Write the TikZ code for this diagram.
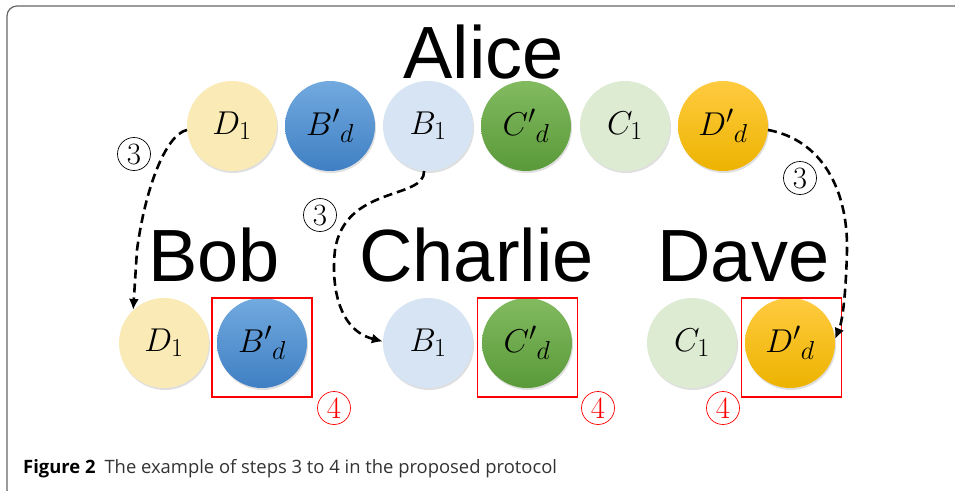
\documentclass[tikz,border=0pt]{standalone}
\usepackage{fix-cm}
\usepackage{fontspec}
\DeclareMathSizes{33}{33}{26}{20}
\newfontfamily\labelfont{Liberation Sans}
\newfontfamily\capfont{Open Sans}
\usetikzlibrary{arrows.meta,shadows}
\definecolor{pyellow}{HTML}{F9EAB6}
\definecolor{pblue}{HTML}{D6E4F3}
\definecolor{pgreen}{HTML}{DDEBD3}
\definecolor{blueT}{HTML}{72AADF}
\definecolor{blueB}{HTML}{3F7FC3}
\definecolor{greenT}{HTML}{82BA60}
\definecolor{greenB}{HTML}{5A9A3A}
\definecolor{orT}{HTML}{FFCB40}
\definecolor{orB}{HTML}{EDB300}
\definecolor{capgray}{HTML}{333333}
\tikzset{
  qubit/.style={circle, minimum size=90pt, inner sep=0pt,
    drop shadow={shadow xshift=1pt, shadow yshift=-2pt, opacity=0.25},
    font=\fontsize{33}{33}\selectfont},
  yel/.style={qubit, fill=pyellow},
  pbl/.style={qubit, fill=pblue},
  pgr/.style={qubit, fill=pgreen},
  blu/.style={qubit, top color=blueT, bottom color=blueB},
  grn/.style={qubit, top color=greenT, bottom color=greenB},
  org/.style={qubit, top color=orT, bottom color=orB},
  party/.style={font=\labelfont\fontsize{74}{74}\selectfont, inner sep=0pt, anchor=base},
  redbox/.style={draw=red, line width=1.8pt, minimum width=100pt, minimum height=99pt, inner sep=0pt},
  stepnum/.style={circle, draw, line width=0.7pt, minimum size=33pt, inner sep=0pt,
    font=\fontsize{31}{31}\selectfont},
  rednum/.style={stepnum, draw=red, text=red},
  sendarrow/.style={line width=2.6pt, dash pattern=on 9pt off 5pt,
    -{Latex[length=11pt,width=10pt]}},
}
\begin{document}
\begin{tikzpicture}[x=1pt,y=-1pt]
\useasboundingbox (0,0) rectangle (955,490);
\begin{scope}
\clip (0,0) rectangle (955,490);
\draw[line width=1.2pt, draw=gray!80!black, rounded corners=10pt] (7,6) rectangle (975,500);
\end{scope}
% labels
\node[party] (alice) at (483.5,78) {Alice};
\node[party] (bob) at (214,281) {Bob};
\node[party] (charlie) at (476.5,281) {Charlie};
\node[party] (dave) at (743.5,281) {Dave};
% Alice's row
\node[yel] (aD1) at (232,126) {$D_1$};
\node[blu] (aBd) at (330,126) {$B{'}_{d}$};
\node[pbl] (aB1) at (428,126) {$B_1$};
\node[grn] (aCd) at (526,126) {$C{'}_{d}$};
\node[pgr] (aC1) at (625,126) {$C_1$};
\node[org] (aDd) at (723,126) {$D{'}_{d}$};
% receivers
\node[yel] (bD1) at (164,343) {$D_1$};
\node[blu] (bBd) at (262,343) {$B{'}_{d}$};
\node[pbl] (cB1) at (428,343) {$B_1$};
\node[grn] (cCd) at (527,343) {$C{'}_{d}$};
\node[pgr] (dC1) at (692,343) {$C_1$};
\node[org] (dDd) at (790,343) {$D{'}_{d}$};
% red boxes
\node[redbox] (boxB) at (262,347.5) {};
\node[redbox] (boxC) at (527.5,347.5) {};
\node[redbox] (boxD) at (791.5,347.5) {};
% step 4 marks
\node[rednum] (s4b) at (334,408) {4};
\node[rednum] (s4c) at (598,408) {4};
\node[rednum] (s4d) at (723,408) {4};
% step 3 marks
\node[stepnum] (s3b) at (134,154) {3};
\node[stepnum] (s3c) at (320,215) {3};
\node[stepnum] (s3d) at (800,178) {3};
% arrows
\draw[sendarrow] (aD1.185) .. controls (165,135) and (145,190) .. (137,250) -- (bD1.133);
\draw[sendarrow] (aB1.265) .. controls (425,200) and (345,185) .. (335,250)
   .. controls (331,285) and (338,330) .. (cB1.178);
\draw[sendarrow] (aDd.-5) .. controls (822,140) and (848,190) .. (847,250)
   .. controls (846,290) and (843,320) .. (dDd.5);
% caption
\node[anchor=base west, inner sep=0pt, font=\capfont\fontsize{18.4}{18.4}\selectfont, text=capgray] (cap) at (23,473)
  {\textbf{\color{black}Figure 2}\hspace{9pt}The example of steps 3 to 4 in the proposed protocol};
\end{tikzpicture}
\end{document}
